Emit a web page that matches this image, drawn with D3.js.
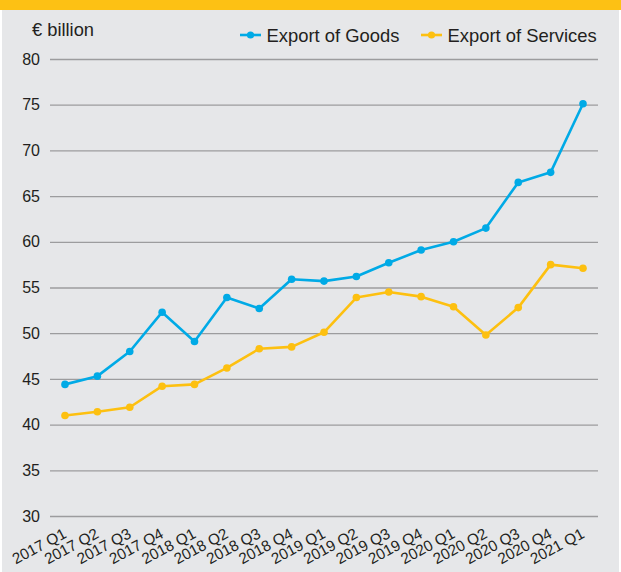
<!DOCTYPE html>
<html>
<head>
<meta charset="utf-8">
<script src="https://cdn.jsdelivr.net/npm/d3@7"></script>
<style>
  html, body { margin: 0; padding: 0; background: #ffffff; }
  svg { display: block; font-family: "Liberation Sans", Arial, Helvetica, sans-serif; }
</style>
</head>
<body>
<svg id="chart" width="621" height="572"></svg>
<script>
// Quarterly exports, € billion
const quarters = [
  "2017 Q1", "2017 Q2", "2017 Q3", "2017 Q4",
  "2018 Q1", "2018 Q2", "2018 Q3", "2018 Q4",
  "2019 Q1", "2019 Q2", "2019 Q3", "2019 Q4",
  "2020 Q1", "2020 Q2", "2020 Q3", "2020 Q4",
  "2021 Q1"
];
const goods = [44.4, 45.3, 48.0, 52.3, 49.1, 53.9, 52.7, 55.9, 55.7, 56.2, 57.7, 59.1, 60.0, 61.5, 66.5, 67.6, 75.1];
const services = [41.0, 41.4, 41.9, 44.2, 44.4, 46.2, 48.3, 48.5, 50.1, 53.9, 54.5, 54.0, 52.9, 49.8, 52.8, 57.5, 57.1];
const yTicks = [30, 35, 40, 45, 50, 55, 60, 65, 70, 75, 80];
const seriesNames = ["Export of Goods", "Export of Services"];
const seriesColors = ["#00aae6", "#fdc010"];

const svg = d3.select("#chart");
const W = 621, H = 572;

// Page frame: yellow band on top, grey panel beneath
svg.append("rect").attr("x", 0).attr("y", 0).attr("width", W).attr("height", H).attr("fill", "#ffffff");
svg.append("rect").attr("x", 2).attr("y", 0).attr("width", W - 4).attr("height", H).attr("fill", "#e6e7e9");
svg.append("rect").attr("x", 0).attr("y", 0).attr("width", W).attr("height", 10).attr("fill", "#fdc114");

const x = d3.scalePoint().domain(quarters).range([65, 583]);
const y = d3.scaleLinear().domain([30, 80]).range([516, 59]);

// Horizontal gridlines with value labels
const yAxis = d3.axisLeft(y)
  .tickValues(yTicks)
  .tickSize(-(598 - 50))
  .tickPadding(10)
  .tickFormat(d3.format("d"));
const gy = svg.append("g").attr("transform", "translate(50,0)").call(yAxis);
gy.select(".domain").remove();
gy.selectAll(".tick line").attr("stroke", "#9c9c9e").attr("stroke-width", 1.3);
gy.selectAll(".tick text")
  .attr("fill", "#231f20")
  .attr("font-size", 16)
  .attr("font-family", "Liberation Sans, Arial, sans-serif");

// Rotated quarter labels
const xAxis = d3.axisBottom(x).tickSize(0).tickPadding(0);
const gx = svg.append("g").call(xAxis);
gx.select(".domain").remove();
gx.selectAll(".tick").attr("transform", d => `translate(${x(d) + 2.5},537)`);
gx.selectAll(".tick text")
  .attr("fill", "#231f20")
  .attr("font-size", 15.3)
  .attr("font-family", "Liberation Sans, Arial, sans-serif")
  .attr("text-anchor", "end")
  .attr("dy", 0)
  .attr("y", 0)
  .attr("transform", "rotate(-28)");

// Unit label
svg.append("text")
  .attr("x", 32).attr("y", 36)
  .attr("font-size", 18.3)
  .attr("fill", "#231f20")
  .text("€ billion");

// Lines and markers
const line = d3.line().x((d, i) => x(quarters[i])).y(d => y(d));
[goods, services].forEach((vals, k) => {
  svg.append("path")
    .datum(vals)
    .attr("fill", "none")
    .attr("stroke", seriesColors[k])
    .attr("stroke-width", 2.6)
    .attr("stroke-linejoin", "round")
    .attr("d", line);
  svg.append("g").selectAll("circle")
    .data(vals)
    .join("circle")
    .attr("cx", (d, i) => x(quarters[i]))
    .attr("cy", d => y(d))
    .attr("r", 3.8)
    .attr("fill", seriesColors[k]);
});

// Legend
const legendPos = [240, 421];
seriesNames.forEach((name, k) => {
  const g = svg.append("g").attr("transform", `translate(${legendPos[k]},35)`);
  g.append("line").attr("x1", 0).attr("x2", 21).attr("y1", 0).attr("y2", 0)
    .attr("stroke", seriesColors[k]).attr("stroke-width", 2.6);
  g.append("circle").attr("cx", 10.5).attr("cy", 0).attr("r", 3.6).attr("fill", seriesColors[k]);
  g.append("text")
    .attr("x", 26.5).attr("y", 6.7)
    .attr("font-size", 18.4)
    .attr("fill", "#231f20")
    .text(name);
});
</script>
</body>
</html>
